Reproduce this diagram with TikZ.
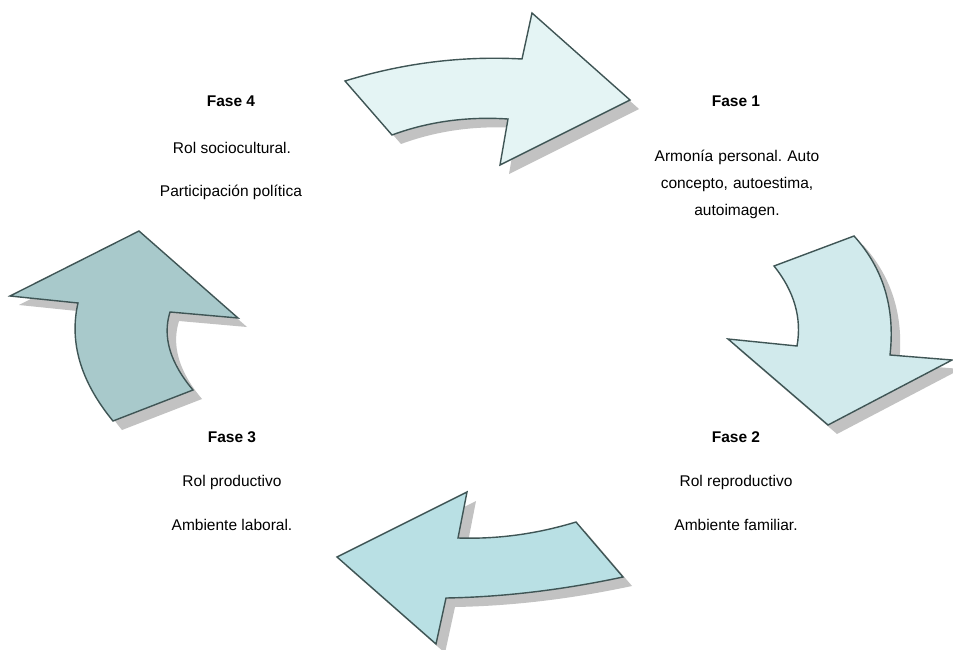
\documentclass[tikz,border=0pt]{standalone}
\usepackage{fontspec}
\setmainfont{Liberation Sans}
\frenchspacing
\definecolor{cA}{HTML}{E4F4F4}
\definecolor{cB}{HTML}{D1EAEC}
\definecolor{cC}{HTML}{B9E0E4}
\definecolor{cD}{HTML}{A8C9CB}
\definecolor{edge}{HTML}{3F5555}
\definecolor{shade}{HTML}{C2C2C2}
\tikzset{
  arrowshape/.style={draw=edge, line width=1.4pt, line join=miter},
  shadowshape/.style={fill=shade, draw=none},
  head/.style={font=\fontsize{15.5}{18}\selectfont\bfseries, align=center},
  body/.style={font=\fontsize{15.5}{18}\selectfont, align=center}
}
\newcommand{\toparrow}{(522,59) .. controls (462.3,55.7) and (403.3,63) .. (345,81) -- (392,135) .. controls (428,121.7) and (466.7,116.3) .. (508,119) -- (500,165) -- (630,100) -- (532,13) -- cycle}
\newcommand{\rightarrowshape}{(774,266) -- (854,236) .. controls (883.3,268.3) and (895.3,308) .. (890,355) -- (952,360) -- (828,425) -- (728,339) -- (797,346) .. controls (802,318) and (794.3,291.3) .. (774,266) -- cycle}
\newcommand{\bottomarrow}{(337,557) -- (467,492) -- (458,538) .. controls (497.3,539.3) and (536.7,534) .. (576,522) -- (623,577) .. controls (562,590) and (503,597) .. (446,598) -- (436,644) -- cycle}
\newcommand{\leftarrowshape}{(139,231) -- (10,296) -- (78,303) .. controls (69,342.3) and (80.7,381.7) .. (113,421) -- (193,390) .. controls (170,362.7) and (162.3,336.7) .. (170,312) -- (238,318) -- cycle}
\begin{document}
\begin{tikzpicture}[x=1pt,y=-1pt]
\useasboundingbox (0,0) rectangle (953,650);
\fill[white] (0,0) rectangle (953,650);
% shadows
\begin{scope}[shift={(9,9)}]
  \fill[shadowshape] \toparrow;
  \fill[shadowshape] \rightarrowshape;
  \fill[shadowshape] \bottomarrow;
  \fill[shadowshape] \leftarrowshape;
\end{scope}
% arrows
\filldraw[arrowshape, fill=cA] \toparrow;
\filldraw[arrowshape, fill=cB] \rightarrowshape;
\filldraw[arrowshape, fill=cC] \bottomarrow;
\filldraw[arrowshape, fill=cD] \leftarrowshape;
% texts
\node[head] (f4) at (231,101) {Fase 4};
\node[body] (f4a) at (232,148) {Rol sociocultural.};
\node[body] (f4b) at (231,192) {Participación política};
\node[head] (f1) at (736,101) {Fase 1};
\node[body, text width=200pt] (f1a) at (737,184) {\baselineskip=27pt Armonía personal. Auto\\concepto, autoestima,\\autoimagen.\par};
\node[head] (f3) at (232,437) {Fase 3};
\node[body] (f3a) at (232,482) {Rol productivo};
\node[body] (f3b) at (232,525) {Ambiente laboral.};
\node[head] (f2) at (736,437) {Fase 2};
\node[body] (f2a) at (736,482) {Rol reproductivo};
\node[body] (f2b) at (736,525) {Ambiente familiar.};
\end{tikzpicture}
\end{document}
